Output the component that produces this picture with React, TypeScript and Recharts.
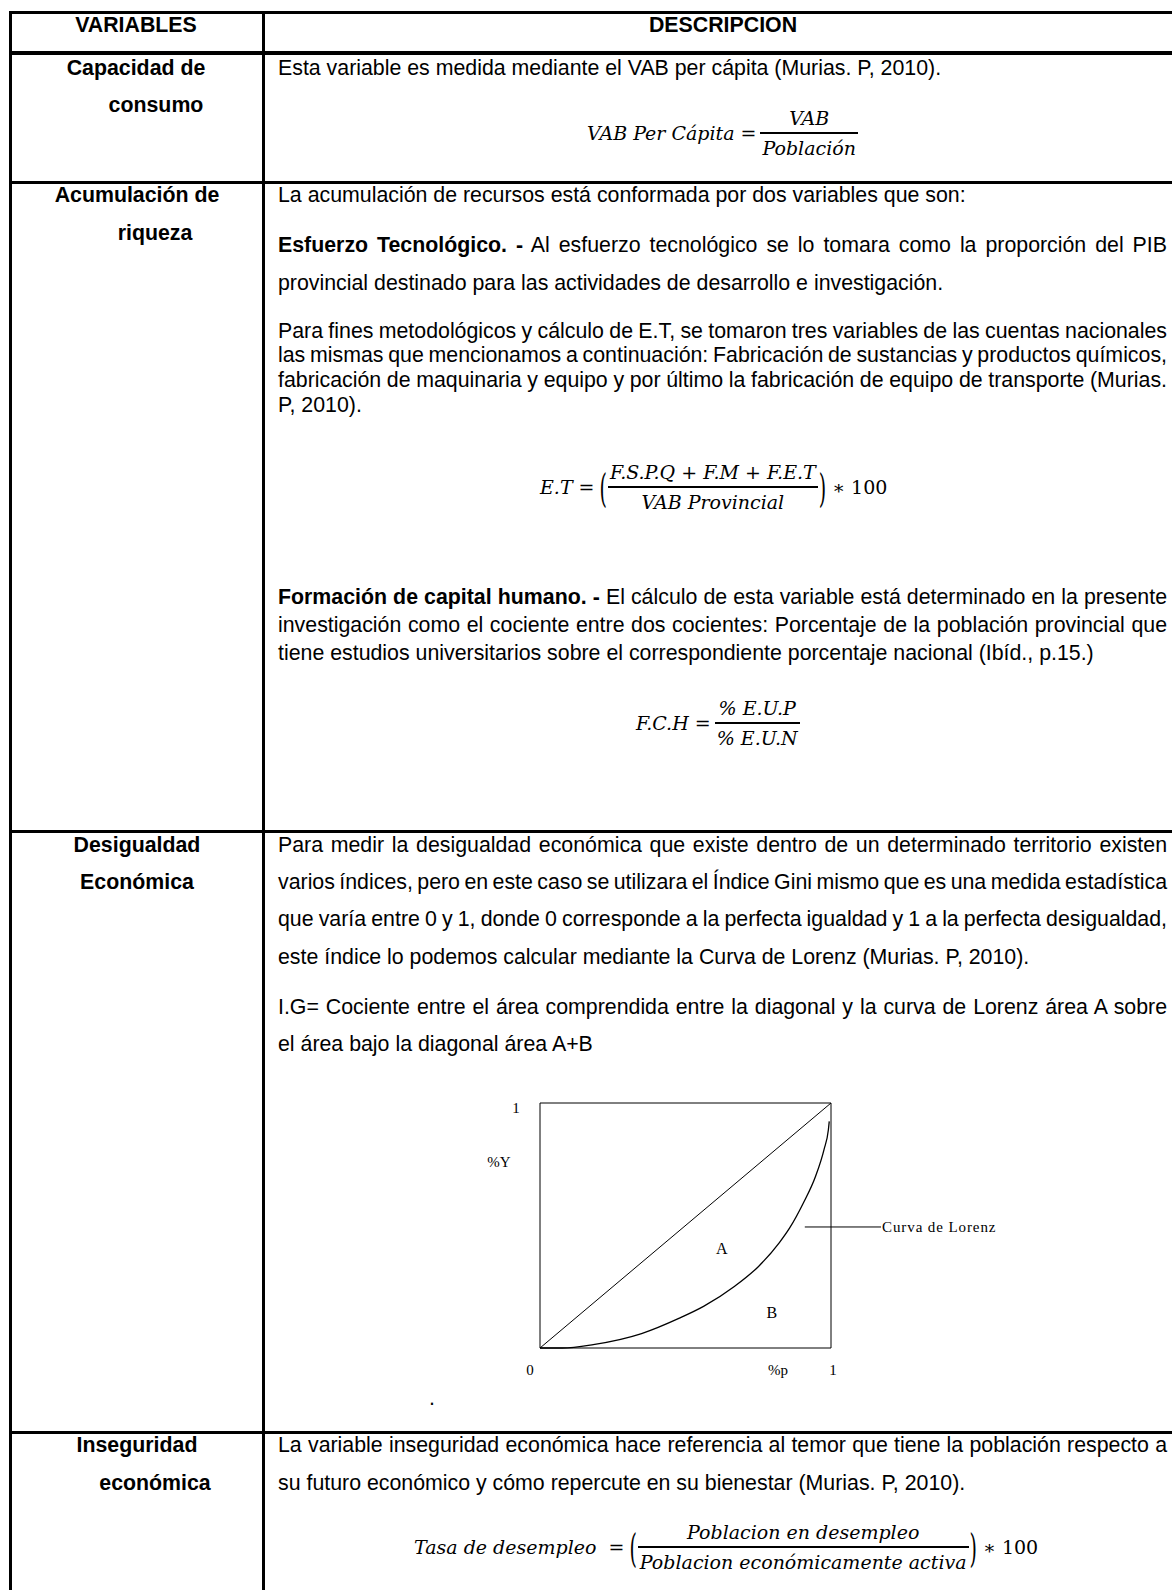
import React from 'react';
import {
  ComposedChart,
  Line,
  XAxis,
  YAxis,
  ReferenceArea,
  ReferenceLine,
  ReferenceDot,
} from 'recharts';

// Lorenz curve (share of population p -> share of income Y)
const lorenzP = [0, 0.077, 0.183, 0.349, 0.479, 0.562, 0.669, 0.751, 0.822, 0.858, 0.905, 0.947, 0.976, 0.991, 0.994];
const lorenzY = [0, 0, 0.014, 0.059, 0.122, 0.17, 0.252, 0.333, 0.429, 0.49, 0.592, 0.701, 0.81, 0.891, 0.925];

// line of perfect equality
const diagonalP = [0, 1];
const diagonalY = [0, 1];

const xTicks = [0, 0.818, 1];
const xTickLabels = ['0', '%p', '1'];
const yTicks = [0.759, 1];
const yTickLabels = ['%Y', '1'];

const areaNames = ['A', 'B'];
const areaP = [0.625, 0.797];
const areaY = [0.408, 0.147];

const curveLabel = 'Curva de Lorenz';
const pointerP = [0.91, 1.172];
const pointerY = 0.494;

const lorenzData = lorenzP.map((p, i) => ({ p, y: lorenzY[i] }));
const diagonalData = diagonalP.map((p, i) => ({ p, y: diagonalY[i] }));

const SANS = '"Liberation Sans", Arial, sans-serif';
const SERIF = '"Liberation Serif", "Times New Roman", serif';
const MATH = '"DejaVu Serif", serif';
const FS = 21.33;

const renderXTick = (props: any) => {
  const { x, y, payload } = props;
  const i = xTicks.indexOf(payload.value);
  const dx = i === 0 ? -10 : i === 2 ? 2 : 0;
  return (
    <text x={x + dx} y={y + 14} textAnchor="middle" dominantBaseline="central" fontFamily={SERIF} fontSize={15} fill="#000">
      {xTickLabels[i]}
    </text>
  );
};

const renderYTick = (props: any) => {
  const { x, y, payload } = props;
  const i = yTicks.indexOf(payload.value);
  const dx = i === 0 ? -33 : -16;
  const dy = i === 0 ? 0 : 5;
  return (
    <text x={x + dx} y={y + dy} textAnchor="middle" dominantBaseline="central" fontFamily={SERIF} fontSize={15} fill="#000">
      {yTickLabels[i]}
    </text>
  );
};

function LorenzChart() {
  return (
    <ComposedChart
      width={540}
      height={305}
      margin={{ top: 18, right: 189, left: 10, bottom: 12 }}
    >
      <XAxis
        type="number"
        dataKey="p"
        domain={[0, 1]}
        ticks={xTicks}
        interval={0}
        height={30}
        axisLine={false}
        tickLine={false}
        tick={renderXTick}
      />
      <YAxis
        type="number"
        dataKey="y"
        domain={[0, 1]}
        ticks={yTicks}
        interval={0}
        width={50}
        axisLine={false}
        tickLine={false}
        tick={renderYTick}
      />
      <ReferenceArea x1={0} x2={1} y1={0} y2={1} fill="none" stroke="#000" strokeWidth={1} />
      <Line
        data={diagonalData}
        dataKey="y"
        type="linear"
        stroke="#000"
        strokeWidth={1}
        dot={false}
        activeDot={false}
        isAnimationActive={false}
      />
      <Line
        data={lorenzData}
        dataKey="y"
        type="monotone"
        stroke="#000"
        strokeWidth={1.3}
        dot={false}
        activeDot={false}
        isAnimationActive={false}
      />
      <ReferenceLine
        segment={[
          { x: pointerP[0], y: pointerY },
          { x: pointerP[1], y: pointerY },
        ]}
        stroke="#000"
        strokeWidth={1}
        ifOverflow="visible"
      />
      <ReferenceDot
        x={pointerP[1]}
        y={pointerY}
        r={1}
        fill="none"
        stroke="none"
        ifOverflow="visible"
        label={{ value: curveLabel, position: 'right', offset: 0, fill: '#000', fontSize: 15, fontFamily: SERIF, letterSpacing: 0.9 }}
      />
      {areaNames.map((name, i) => (
        <ReferenceDot
          key={name}
          x={areaP[i]}
          y={areaY[i]}
          r={1}
          fill="none"
          stroke="none"
          label={{ value: name, position: 'center', fill: '#000', fontSize: 16, fontFamily: SERIF }}
        />
      ))}
    </ComposedChart>
  );
}

type TextLine = { y: number; text: string; bold?: string; justify?: boolean };

const leftCells = [
  { y: 25, x: 136, text: 'VARIABLES' },
  { y: 68, x: 136, text: 'Capacidad de' },
  { y: 105, x: 156, text: 'consumo' },
  { y: 195, x: 137, text: 'Acumulación de' },
  { y: 233, x: 155, text: 'riqueza' },
  { y: 845, x: 137, text: 'Desigualdad' },
  { y: 882, x: 137, text: 'Económica' },
  { y: 1445, x: 137, text: 'Inseguridad' },
  { y: 1483, x: 155, text: 'económica' },
];

const rightLines: TextLine[] = [
  { y: 68, text: 'Esta variable es medida mediante el VAB per cápita (Murias. P, 2010).' },
  { y: 195, text: 'La acumulación de recursos está conformada por dos variables que son:' },
  { y: 245, bold: 'Esfuerzo Tecnológico. -', text: '  Al esfuerzo tecnológico se lo tomara como la proporción del PIB', justify: true },
  { y: 283, text: 'provincial destinado para las actividades de desarrollo e investigación.' },
  { y: 331, text: 'Para fines metodológicos y cálculo de E.T, se tomaron tres variables de las cuentas nacionales', justify: true },
  { y: 355, text: 'las mismas que mencionamos a continuación: Fabricación de sustancias y productos químicos,', justify: true },
  { y: 380, text: 'fabricación de maquinaria y equipo y por último la fabricación de equipo de transporte (Murias.', justify: true },
  { y: 405, text: 'P, 2010).' },
  { y: 597, bold: 'Formación de capital humano. -', text: ' El cálculo de esta variable está determinado en la presente', justify: true },
  { y: 625, text: 'investigación como el cociente entre dos cocientes: Porcentaje de la población provincial que', justify: true },
  { y: 653, text: 'tiene estudios universitarios sobre el correspondiente porcentaje nacional (Ibíd., p.15.)' },
  { y: 845, text: 'Para medir la desigualdad económica que existe dentro de un determinado territorio existen', justify: true },
  { y: 882, text: 'varios índices, pero en este caso se utilizara el Índice Gini mismo que es una medida estadística', justify: true },
  { y: 919, text: 'que varía entre 0 y 1, donde 0 corresponde a la perfecta igualdad y 1 a la perfecta desigualdad,', justify: true },
  { y: 957, text: 'este índice lo podemos calcular mediante la Curva de Lorenz (Murias. P, 2010).' },
  { y: 1007, text: 'I.G= Cociente entre el área comprendida entre la diagonal y la curva de Lorenz área A sobre', justify: true },
  { y: 1044, text: 'el área bajo la diagonal área A+B' },
  { y: 1445, text: 'La variable inseguridad económica hace referencia al temor que tiene la población respecto a', justify: true },
  { y: 1483, text: 'su futuro económico y cómo repercute en su bienestar (Murias. P, 2010).' },
];

const formulas = [
  { left: 587, cy: 133, lhs: 'VAB Per Cápita =', num: 'VAB', den: 'Población', paren: false, rhs: '' },
  { left: 540, cy: 487, lhs: 'E.T =', num: 'F.S.P.Q + F.M + F.E.T', den: 'VAB Provincial', paren: true, rhs: '∗ 100' },
  { left: 636, cy: 723, lhs: 'F.C.H =', num: '% E.U.P', den: '% E.U.N', paren: false, rhs: '' },
  { left: 414, cy: 1547, lhs: 'Tasa de desempleo  =', num: 'Poblacion en desempleo', den: 'Poblacion económicamente activa', paren: true, rhs: '∗ 100' },
];

const hLines = [
  { y: 12, w: 3 },
  { y: 53, w: 4 },
  { y: 182, w: 3 },
  { y: 831, w: 3 },
  { y: 1432, w: 3 },
];
const vLines = [10, 263];

function Formula(f: (typeof formulas)[number]) {
  const paren = (ch: string) => (
    <span style={{ display: 'inline-block', fontStyle: 'normal', fontWeight: 300, transform: 'scaleY(2.1)', margin: '0 1px' }}>{ch}</span>
  );
  return (
    <div
      style={{
        position: 'absolute',
        left: f.left,
        top: f.cy - 40,
        height: 80,
        display: 'flex',
        alignItems: 'center',
        fontFamily: MATH,
        fontStyle: 'italic',
        fontSize: 19,
        whiteSpace: 'pre',
        color: '#000',
      }}
    >
      <span style={{ marginRight: 4 }}>{f.lhs}</span>
      {f.paren && paren('(')}
      <span style={{ display: 'inline-flex', flexDirection: 'column', alignItems: 'center' }}>
        <span style={{ lineHeight: '28px', padding: '0 2px' }}>{f.num}</span>
        <span style={{ alignSelf: 'stretch', borderTop: '2px solid #000' }} />
        <span style={{ lineHeight: '28px', padding: '0 2px' }}>{f.den}</span>
      </span>
      {f.paren && paren(')')}
      {f.rhs && <span style={{ fontStyle: 'normal', marginLeft: 5 }}>{f.rhs}</span>}
    </div>
  );
}

export default function App() {
  return (
    <div
      style={{
        position: 'absolute',
        left: 0,
        top: 0,
        width: 1172,
        height: 1590,
        overflow: 'hidden',
        background: '#fff',
        color: '#000',
      }}
    >
      {hLines.map((l) => (
        <div key={l.y} style={{ position: 'absolute', left: 9, top: l.y - l.w / 2, width: 1200, height: l.w, background: '#000' }} />
      ))}
      {vLines.map((x) => (
        <div key={x} style={{ position: 'absolute', left: x - 1.5, top: 10.5, width: 3, height: 1600, background: '#000' }} />
      ))}

      {leftCells.map((c) => (
        <div
          key={c.text}
          style={{
            position: 'absolute',
            left: c.x - 120,
            width: 240,
            top: c.y - 12,
            lineHeight: '24px',
            textAlign: 'center',
            fontFamily: SANS,
            fontWeight: 'bold',
            fontSize: FS,
            whiteSpace: 'nowrap',
          }}
        >
          {c.text}
        </div>
      ))}

      <div
        style={{
          position: 'absolute',
          left: 723 - 200,
          width: 400,
          top: 25 - 12,
          lineHeight: '24px',
          textAlign: 'center',
          fontFamily: SANS,
          fontWeight: 'bold',
          fontSize: FS,
        }}
      >
        DESCRIPCION
      </div>

      {rightLines.map((l) => (
        <div
          key={l.y}
          style={{
            position: 'absolute',
            left: 278,
            width: 889,
            top: l.y - 12,
            lineHeight: '24px',
            height: 24,
            fontFamily: SANS,
            fontSize: FS,
            textAlign: l.justify ? 'justify' : 'left',
            textAlignLast: l.justify ? 'justify' : 'left',
            wordSpacing: l.justify ? -4 : 0,
            whiteSpace: l.justify ? 'normal' : 'nowrap',
          }}
        >
          {l.bold && <b>{l.bold}</b>}
          {l.text}
        </div>
      ))}

      {formulas.map((f) => (
        <Formula key={f.lhs} {...f} />
      ))}

      <div style={{ position: 'absolute', left: 480, top: 1085 }}>
        <LorenzChart />
      </div>

      <div style={{ position: 'absolute', left: 429, top: 1386, fontFamily: SANS, fontSize: FS, lineHeight: '24px' }}>.</div>
    </div>
  );
}
